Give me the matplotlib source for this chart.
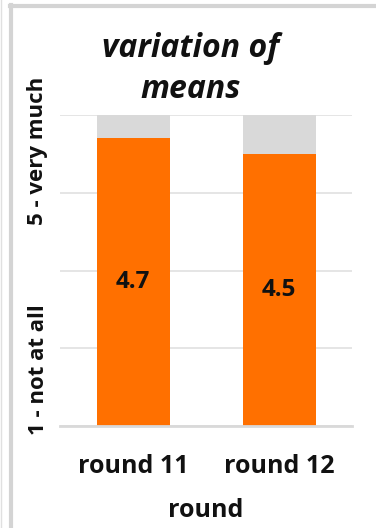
import matplotlib
matplotlib.use("Agg")
import matplotlib.pyplot as plt
from matplotlib.lines import Line2D

# data
rounds = ["round 11", "round 12"]
means = [4.7, 4.5]
scale_min = 1
scale_max = 5

orange = "#FF7000"
rest_grey = "#D9D9D9"
grid_grey = "#E3E3E3"
ink = "#111111"

plt.rcParams["font.family"] = ["Open Sans", "DejaVu Sans"]

fig = plt.figure(figsize=(3.76, 5.28), dpi=100)
ax = fig.add_axes([60 / 376, 1 - 426 / 528, 292 / 376, 311 / 528])

x = range(len(rounds))
heights = [m - scale_min for m in means]
rest = [scale_max - m for m in means]
ax.bar(x, heights, bottom=scale_min, width=0.5, color=orange, zorder=2)
ax.bar(x, rest, bottom=means, width=0.5, color=rest_grey, zorder=2)

for i, m in enumerate(means):
    ax.text(i, scale_min + (m - scale_min) / 2, f"{m:.1f}", ha="center", va="center",
            fontsize=17.5, fontweight="bold", color=ink, zorder=3)

ax.set_xlim(-0.5, 1.5)
ax.set_ylim(scale_min, scale_max)
ax.set_yticks(range(scale_min, scale_max + 1))
ax.set_yticklabels([])
ax.yaxis.grid(True, color=grid_grey, linewidth=1.3, zorder=0)
ax.tick_params(axis="y", length=0)
ax.tick_params(axis="x", length=0, pad=20)
ax.set_xticks(list(x))
ax.set_xticklabels(rounds, fontsize=18, fontweight="bold", color=ink)
for side in ["top", "right", "left"]:
    ax.spines[side].set_visible(False)
ax.spines["bottom"].set_color(rest_grey)
ax.spines["bottom"].set_linewidth(2)
ax.spines["bottom"].set_zorder(3)

ax.set_xlabel("round", fontsize=18, fontweight="bold", color=ink, labelpad=14)

# y axis end labels
fig.text(38 / 376, 1 - 151 / 528, "5 - very much", rotation=90, ha="center", va="center",
         fontsize=16, fontweight="bold", color=ink)
fig.text(38 / 376, 1 - 370 / 528, "1 - not at all", rotation=90, ha="center", va="center",
         fontsize=16, fontweight="bold", color=ink)

# title
fig.text(191 / 376, 1 - 69 / 528, "variation of\nmeans", ha="center", va="center",
         fontsize=23, fontweight="bold", fontstyle="italic", color=ink,
         linespacing=1.35)

# outer frame
frame_col = "#D4D4D4"
fig.add_artist(Line2D([0.5 / 376, 0.5 / 376], [0, 1], transform=fig.transFigure,
                      color="#E0E0E0", linewidth=1))
fig.add_artist(Line2D([11 / 376, 11 / 376], [0, 1 - 5 / 528], transform=fig.transFigure,
                      color=frame_col, linewidth=3))
fig.add_artist(Line2D([9.5 / 376, 1], [1 - 5.5 / 528, 1 - 5.5 / 528], transform=fig.transFigure,
                      color=frame_col, linewidth=3))

fig.savefig("out.png", dpi=100)
